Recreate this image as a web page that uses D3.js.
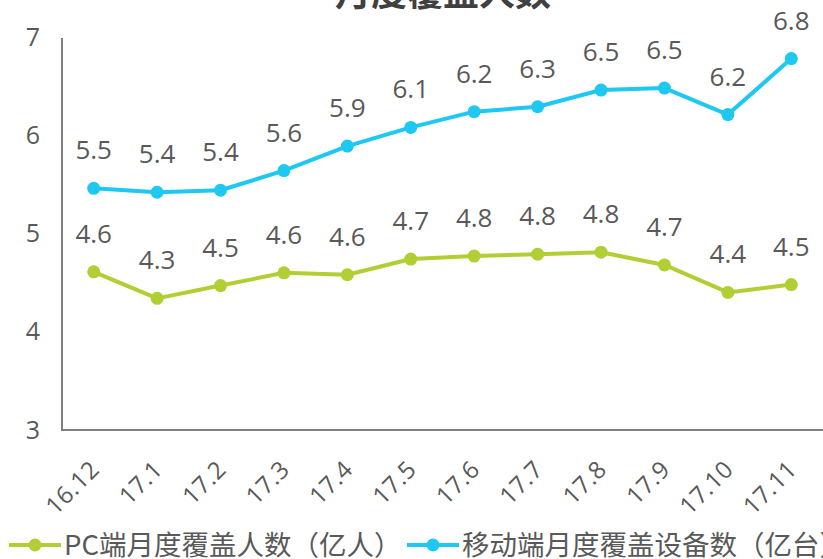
<!DOCTYPE html>
<html><head><meta charset="utf-8">
<script src="https://cdn.jsdelivr.net/npm/d3@7"></script>
<style>
html,body{margin:0;padding:0;background:#fff;}
svg{display:block;font-family:"Open Sans","Noto Sans CJK SC",sans-serif;}
</style></head>
<body>
<svg id="chart" width="823" height="559"></svg>
<script>
const categories = ["16.12","17.1","17.2","17.3","17.4","17.5","17.6","17.7","17.8","17.9","17.10","17.11"];
const pcValues = [4.61,4.34,4.47,4.60,4.58,4.74,4.77,4.79,4.81,4.68,4.40,4.48];
const pcLabels = ["4.6","4.3","4.5","4.6","4.6","4.7","4.8","4.8","4.8","4.7","4.4","4.5"];
const mobileValues = [5.46,5.42,5.44,5.64,5.89,6.08,6.24,6.29,6.46,6.48,6.21,6.78];
const mobileLabels = ["5.5","5.4","5.4","5.6","5.9","6.1","6.2","6.3","6.5","6.5","6.2","6.8"];
const yTicks = [3,4,5,6,7];
const seriesNames = ["PC端月度覆盖人数（亿人）","移动端月度覆盖设备数（亿台）"];
const titleText = "月度覆盖人数";

(function(){
const svg = d3.select("#chart");
const mLeft = 62, mRight = 823, mTop = 37, mBottom = 430;
const green = "#b1cf34", blue = "#1fc8f0", textColor = "#595959", axisColor = "#7f7f7f";

const x = d3.scaleBand().domain(categories).range([mLeft, mRight]);
const y = d3.scaleLinear().domain([3,7]).range([mBottom, mTop]);
const cx = d => x(d) + x.bandwidth()/2;

// title (cut off at top)
svg.append("text").attr("x", 443).attr("y", 6).attr("text-anchor","middle")
  .attr("font-size", 36).attr("font-weight","bold").attr("fill","#404040")
  .attr("font-family","'Noto Sans CJK SC',sans-serif").text(titleText);

// y axis
const yAxis = d3.axisLeft(y).tickValues(yTicks).tickSize(0).tickPadding(22).tickFormat(d3.format("d"));
const gy = svg.append("g").attr("transform",`translate(${mLeft},0)`).call(yAxis);
gy.select(".domain").attr("stroke", axisColor).attr("stroke-width",2).attr("d", `M0,${mTop+1}V${mBottom}`);
gy.selectAll("text").attr("font-size",25).attr("fill",textColor).attr("font-family","'Open Sans',sans-serif");

// x axis
const xAxis = d3.axisBottom(x).tickSize(0).tickPadding(0);
const gx = svg.append("g").attr("transform",`translate(0,${mBottom})`).call(xAxis);
gx.select(".domain").attr("stroke", axisColor).attr("stroke-width",2).attr("d", `M${mLeft-1},0H${mRight}`);
gx.selectAll(".tick text").attr("font-size",24).attr("fill",textColor)
  .attr("font-family","'Open Sans',sans-serif")
  .attr("text-anchor","end").attr("dy",0).attr("letter-spacing",0.5)
  .attr("transform","translate(7,41) rotate(-45)");

function drawSeries(vals, labels, color){
  const line = d3.line().x((d,i)=>cx(categories[i])).y(d=>y(d));
  svg.append("path").datum(vals).attr("d", line).attr("fill","none")
    .attr("stroke", color).attr("stroke-width",4).attr("stroke-linejoin","round");
  svg.append("g").selectAll("circle").data(vals).join("circle")
    .attr("cx",(d,i)=>cx(categories[i])).attr("cy",d=>y(d)).attr("r",6.5).attr("fill",color);
  svg.append("g").selectAll("text").data(vals).join("text")
    .attr("x",(d,i)=>cx(categories[i])).attr("y",d=>y(d)-29)
    .attr("text-anchor","middle").attr("font-size",26).attr("fill",textColor)
    .attr("font-family","'Open Sans',sans-serif")
    .text((d,i)=>labels[i]);
}
drawSeries(pcValues, pcLabels, green);
drawSeries(mobileValues, mobileLabels, blue);

// legend
const legendItems = [
  {name: seriesNames[0], color: green, x0: 9},
  {name: seriesNames[1], color: blue, x0: 407}
];
const ly = 545;
legendItems.forEach(it=>{
  const g = svg.append("g");
  g.append("line").attr("x1",it.x0).attr("x2",it.x0+52).attr("y1",ly).attr("y2",ly)
    .attr("stroke",it.color).attr("stroke-width",4);
  g.append("circle").attr("cx",it.x0+26).attr("cy",ly).attr("r",6.5).attr("fill",it.color);
  g.append("text").attr("x",it.x0+55).attr("y",ly+10).attr("font-size",27.5).attr("fill",textColor)
    .attr("font-family","'Noto Sans CJK SC',sans-serif").text(it.name);
});
})();
</script>
</body></html>
